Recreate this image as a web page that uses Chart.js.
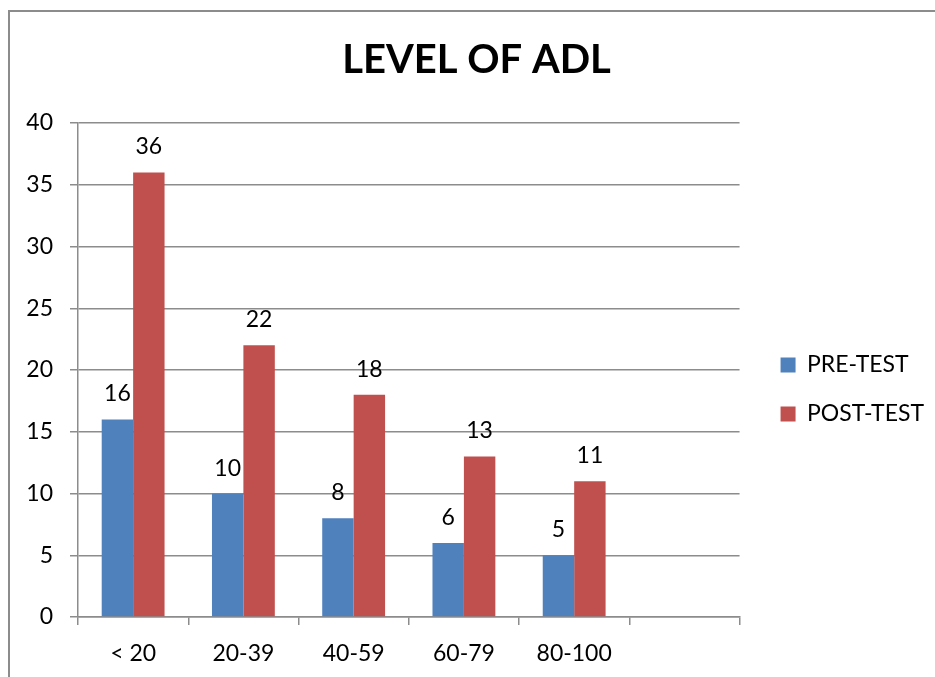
<!DOCTYPE html>
<html>
<head>
<meta charset="utf-8">
<script src="https://cdn.jsdelivr.net/npm/chart.js@4/dist/chart.umd.min.js"></script>
<style>
  html, body { margin: 0; padding: 0; background: #fff; overflow: hidden; }
  #frame { position: absolute; left: 8px; top: 10px; width: 2000px; height: 2000px;
           border-left: 2px solid #8c8c8c; border-top: 2px solid #8c8c8c; }
  #c { position: absolute; left: 0; top: 0; }
</style>
</head>
<body>
<div id="frame"></div>
<canvas id="c" width="935" height="677"></canvas>
<script>
// ADL score bands (last slot left empty on the axis)
const categories = ['< 20', '20-39', '40-59', '60-79', '80-100', ''];
const preTest  = [16, 10, 8, 6, 5, null];
const postTest = [36, 22, 18, 13, 11, null];
const yTicks = { min: 0, max: 40, step: 5 };

const FONT = 'Lato';
const GRID = '#8c8c8c';

// Value labels above each bar
const barValues = {
  id: 'barValues',
  afterDatasetsDraw(chart) {
    const ctx = chart.ctx;
    ctx.save();
    ctx.font = '23px ' + FONT;
    ctx.fillStyle = '#000';
    ctx.textAlign = 'center';
    ctx.textBaseline = 'alphabetic';
    chart.data.datasets.forEach((ds, di) => {
      chart.getDatasetMeta(di).data.forEach((el, i) => {
        const v = ds.data[i];
        if (v === null || v === undefined) return;
        ctx.fillText(String(v), el.x, el.y - 18);
      });
    });
    ctx.restore();
  }
};

// Shift the title and legend blocks from their default slots
const blockNudge = {
  id: 'blockNudge',
  afterLayout(chart) {
    const t = chart.titleBlock;
    if (t) { t.left += 17; t.right += 17; }
    const l = chart.legend;
    if (l) {
      l.left += 15; l.right += 15;
      l.top += 51; l.bottom += 51;
    }
  }
};

new Chart(document.getElementById('c'), {
  type: 'bar',
  data: {
    labels: categories,
    datasets: [
      { label: 'PRE-TEST', data: preTest, backgroundColor: '#4F81BD', borderWidth: 0 },
      { label: 'POST-TEST', data: postTest, backgroundColor: '#C0504D', borderWidth: 0 }
    ]
  },
  options: {
    responsive: false,
    animation: false,
    events: [],
    categoryPercentage: 0.57,
    barPercentage: 1.0,
    layout: { padding: { left: 0, right: 16, top: 0, bottom: 0 } },
    plugins: {
      title: {
        display: true,
        text: 'LEVEL OF ADL',
        color: '#000',
        font: { family: FONT, size: 40, weight: 'bold', lineHeight: 1.2 },
        padding: { top: 36, bottom: 39 }
      },
      legend: {
        position: 'right',
        labels: {
          color: '#000',
          font: { family: FONT, size: 23 },
          boxWidth: 15,
          boxHeight: 15,
          padding: 26
        }
      },
      tooltip: { enabled: false }
    },
    scales: {
      x: {
        grid: { display: true, drawOnChartArea: false, drawTicks: true, tickLength: 8,
                color: GRID, lineWidth: 1.5, offset: true },
        border: { display: true, color: GRID, width: 1.5 },
        ticks: { color: '#000', font: { family: FONT, size: 23 }, padding: 15,
                 maxRotation: 0, autoSkip: false },
        afterFit(s) { s.height = 60; }
      },
      y: {
        min: yTicks.min,
        max: yTicks.max,
        grid: { color: GRID, lineWidth: 1.5, tickLength: 8, drawTicks: true },
        border: { display: true, color: GRID, width: 1.5 },
        ticks: { stepSize: yTicks.step, color: '#000', font: { family: FONT, size: 23 }, padding: 17 },
        afterFit(s) { s.width = 78; }
      }
    }
  },
  plugins: [barValues, blockNudge]
});
</script>
</body>
</html>
